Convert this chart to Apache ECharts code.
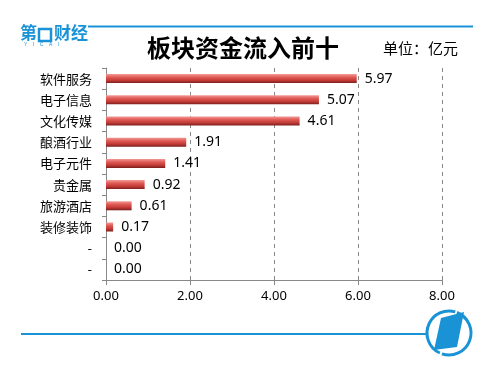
<!DOCTYPE html>
<html><head><meta charset="utf-8">
<script src="https://cdn.jsdelivr.net/npm/echarts@6/dist/echarts.min.js"></script>
<style>html,body{margin:0;padding:0;background:#fff}#c{width:500px;height:373px}</style>
</head><body><div id="c"></div>
<script>
const categories = ['软件服务','电子信息','文化传媒','酿酒行业','电子元件','贵金属','旅游酒店','装修装饰','-','-'];
const values = [5.97,5.07,4.61,1.91,1.41,0.92,0.61,0.17,0.00,0.00];
const xTicks = [0,2,4,6,8];
const titleText = '板块资金流入前十';
const unitText = '单位：亿元';

const chart = echarts.init(document.getElementById('c'));
const blue = '#1a93d6';
chart.setOption({
  animation:false,
  grid:{left:106,right:58,top:68,bottom:93},
  xAxis:{type:'value',min:xTicks[0],max:xTicks[xTicks.length-1],interval:2,
    axisLine:{show:true,lineStyle:{color:'#888',width:1}},
    axisTick:{show:true,length:5,lineStyle:{color:'#888'}},
    axisLabel:{formatter:v=>v.toFixed(2),color:'#000',fontSize:13,fontFamily:'Noto Sans',margin:10},
    splitLine:{show:true,lineStyle:{color:'#888',type:[4,4],width:1}}},
  yAxis:{type:'category',data:categories,inverse:true,
    axisLine:{show:true,lineStyle:{color:'#888'}},
    axisTick:{show:true,length:4,lineStyle:{color:'#888'}},
    axisLabel:{color:'#000',fontSize:13,fontFamily:'Noto Sans CJK SC',margin:14}},
  series:[{type:'bar',data:values,barWidth:9,
    itemStyle:{color:new echarts.graphic.LinearGradient(0,0,0,1,[
      {offset:0,color:'#f29a96'},{offset:0.35,color:'#e05a55'},{offset:0.7,color:'#c23a36'},{offset:1,color:'#7a1f1c'}])},
    label:{show:true,position:'right',distance:8,formatter:p=>p.value.toFixed(2),color:'#000',fontSize:14,fontFamily:'Noto Sans'}}],
  graphic:[
    {type:'line',shape:{x1:88,y1:26.5,x2:473,y2:26.5},style:{stroke:blue,lineWidth:2}},
    {type:'text',left:20,top:24,style:{text:'第',fill:blue,font:'bold 17px "Noto Sans CJK SC"'}},
    {type:'rect',shape:{x:39,y:29,width:12,height:12},style:{fill:'none',stroke:blue,lineWidth:2.5}},
    {type:'text',left:54,top:24,style:{text:'财经',fill:blue,font:'bold 17px "Noto Sans CJK SC"'}},
    {type:'text',left:24,top:42,style:{text:'Y    I    C    A    I',fill:blue,font:'5px sans-serif'}},
    {type:'text',left:147,top:36,style:{text:titleText,fill:'#000',font:'bold 24px "Noto Sans CJK SC"'}},
    {type:'text',left:383,top:41,style:{text:unitText,fill:'#000',font:'15px "Noto Sans CJK SC"'}},
    {type:'line',shape:{x1:21,y1:334,x2:426,y2:334},style:{stroke:blue,lineWidth:2}},
    {type:'arc',shape:{cx:449,cy:333,r:22,startAngle:-1.2,endAngle:1.9},style:{stroke:blue,lineWidth:3,fill:'none'}},
    {type:'arc',shape:{cx:449,cy:333,r:22,startAngle:2.0,endAngle:5.0},style:{stroke:blue,lineWidth:3,fill:'none'}},
    {type:'polygon',shape:{points:[[441,318],[464,312],[457,347],[434,350]]},style:{fill:blue}}
  ]
});
</script></body></html>
